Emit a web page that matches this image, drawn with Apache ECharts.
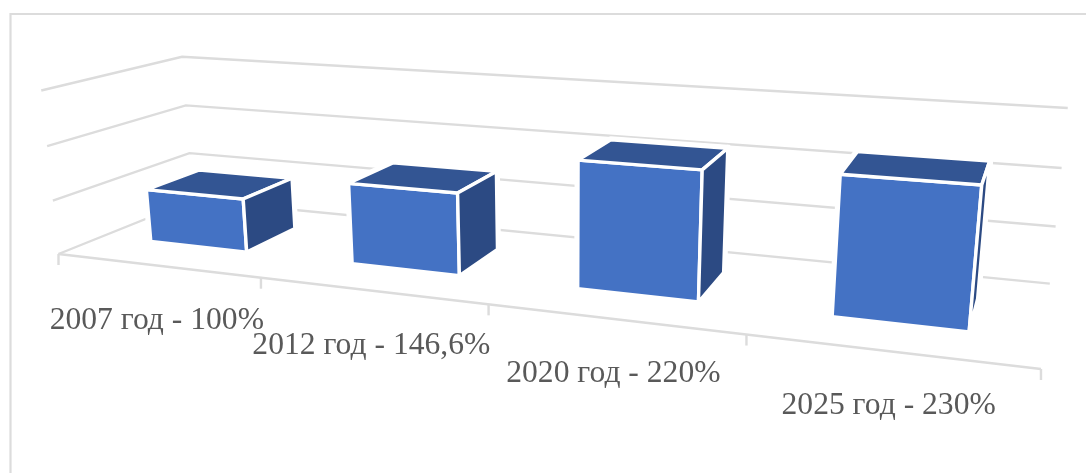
<!DOCTYPE html>
<html><head><meta charset="utf-8">
<style>html,body{margin:0;padding:0;background:#fff}#c{width:1086px;height:473px}</style>
<script src="https://cdn.jsdelivr.net/npm/echarts@6/dist/echarts.min.js"></script>
</head><body><div id="c"></div>
<script>
const categories = ['2007 год - 100%', '2012 год - 146,6%', '2020 год - 220%', '2025 год - 230%'];
const values = [100, 146.6, 220, 230];
const valueTicks = [0, 100, 200, 300];

// camera of the 3D view (depth and perspective terms)
const cam = {dx:163.3, dyC:8.33, dyD:-24.2, bx:-0.062, wC:-0.05535, wD:0.149, wV:-0.00011};
const barHalf = 0.245, barD0 = 0.30, barD1 = 0.705;
const GRID='#dcdcdc', FRONT='#4472c4', TOP='#335593', SIDE='#2c4a83', TEXT='#595959';

function projector(api){
  return function(c,v,d){
    const p = api.coord([c,v]);
    const w = 1 + cam.wC*c + cam.wD*d + cam.wV*v;
    return [(p[0] + cam.dx*d + cam.bx*v)/w, (p[1] + cam.dyC*c + cam.dyD*d)/w];
  };
}
const line=(pts,w)=>({type:'polyline',shape:{points:pts},style:{fill:null,stroke:GRID,lineWidth:w||2.4}});
const nCat = categories.length;

const frame = {type:'custom',coordinateSystem:'cartesian2d',silent:true,z:1,data:[0],
  renderItem(params,api){
    const P=projector(api), ch=[];
    valueTicks.forEach(v=>{
      if(v===0) ch.push(line([P(0,0,0),P(0,0,1),P(nCat,0,1)]));
      else ch.push(line([P(0,v,0),P(0,v,1),P(nCat,v,1)]));
    });
    ch.push(line([P(0,0,0),P(nCat,0,0)]));
    for(let i=0;i<=nCat;i++){const q=P(i,0,0);ch.push(line([q,[q[0],q[1]+11]]));}
    return {type:'group',children:ch};
  }};

const bars = {type:'custom',coordinateSystem:'cartesian2d',silent:true,z:2,
  data:values.map((v,i)=>[i,v]),
  renderItem(params,api){
    const P=projector(api), i=api.value(0), v=api.value(1);
    const a=i+0.5-barHalf,b=i+0.5+barHalf;
    const faces=[
      [[P(a,0,barD0),P(b,0,barD0),P(b,v,barD0),P(a,v,barD0)],FRONT],
      [[P(a,v,barD0),P(b,v,barD0),P(b,v,barD1),P(a,v,barD1)],TOP],
      [[P(b,0,barD0),P(b,0,barD1),P(b,v,barD1),P(b,v,barD0)],SIDE]
    ];
    const ch=[];
    faces.forEach(f=>ch.push({type:'polygon',shape:{points:f[0]},style:{fill:'#fff',stroke:'#fff',lineWidth:7,lineJoin:'round'}}));
    faces.forEach(f=>ch.push({type:'polygon',shape:{points:f[0]},style:{fill:f[1],stroke:'#fff',lineWidth:3.4,lineJoin:'miter'}}));
    return {type:'group',children:ch};
  }};

const labels = {type:'custom',coordinateSystem:'cartesian2d',silent:true,z:3,
  data:categories.map((n,i)=>[i,n]),
  renderItem(params,api){
    const P=projector(api), i=api.value(0), q=P(i+0.5,0,0);
    return {type:'text',style:{text:categories[i],x:q[0],y:q[1]+55,align:'center',verticalAlign:'middle',
      font:'31.6px "Liberation Serif"',fill:TEXT}};
  }};

const chart = echarts.init(document.getElementById('c'),null,{renderer:'canvas'});
chart.setOption({
  animation:false,
  backgroundColor:'#fff',
  graphic:[{type:'rect',shape:{x:10.5,y:14,width:1200,height:600},style:{fill:null,stroke:GRID,lineWidth:2.2},silent:true,z:0}],
  grid:{left:58.5,top:87.5,width:752,height:166.5,containLabel:false},
  xAxis:{type:'value',min:0,max:nCat,show:false},
  yAxis:{type:'value',min:0,max:300,show:false},
  series:[frame,bars,labels]
});
</script></body></html>
